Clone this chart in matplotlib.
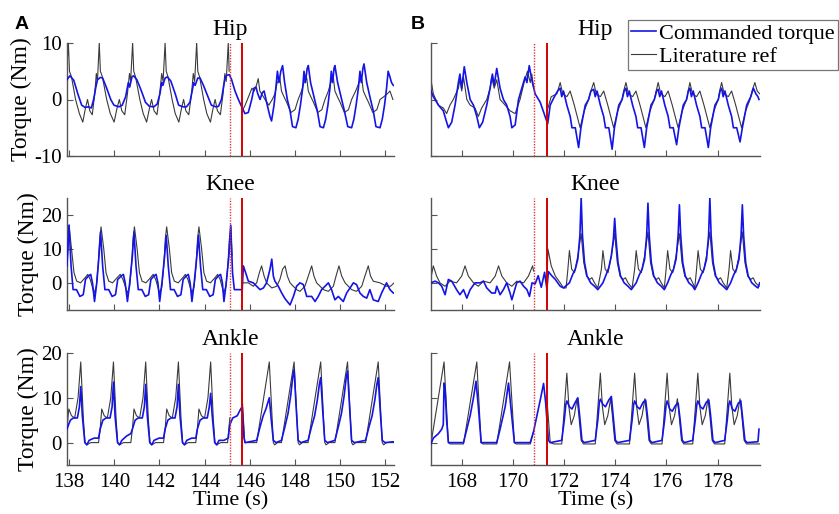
import numpy as np
import matplotlib.pyplot as plt

plt.rcParams['font.family'] = ['Liberation Serif', 'DejaVu Serif']
plt.rcParams['axes.unicode_minus'] = False

nan = float('nan')

# ---- walking trial A (t in s, torque in Nm) ----
hip_a_cmd = [
    (137.90, 3.5), (138.03, 4.2), (138.20, 3.4), (138.38, 1.0), (138.55, -1.0), (138.70, -1.4),
    (138.85, -1.3), (138.98, -1.5), (139.08, 0.0), (139.17, 2.0), (139.25, 3.5), (139.38, 3.9),
    (139.48, 3.8), (139.66, 2.0), (139.84, 0.0), (139.98, -1.0), (140.20, -1.3), (140.35, -1.0),
    (140.50, 0.5), (140.62, 3.0), (140.68, 2.2), (140.78, 4.0), (140.85, 4.2), (141.00, 3.5),
    (141.20, 1.5), (141.38, -0.5), (141.55, -1.2), (141.75, -1.3), (141.90, -0.8), (142.02, 1.0),
    (142.10, 3.0), (142.15, 2.5), (142.25, 3.8), (142.35, 4.0), (142.50, 3.3), (142.70, 1.0),
    (142.85, -1.0), (143.05, -1.3), (143.20, -1.3), (143.35, -0.5), (143.45, 1.5), (143.52, 3.0),
    (143.58, 2.5), (143.70, 3.8), (143.80, 3.8), (143.95, 2.5), (144.15, 0.5), (144.30, -1.0),
    (144.50, -1.3), (144.62, -1.2), (144.75, 0.0), (144.85, 2.5), (144.92, 4.0), (145.00, 4.3),
    (145.10, 4.4), (145.20, 3.5), (145.35, 1.5), (145.50, 0.0), (145.67, -1.5),
    (145.79, -2.5), (145.94, -2.3), (146.09, 0.0), (146.19, 2.0), (146.28, 2.2), (146.36, 1.0),
    (146.46, 0.0), (146.56, 1.2), (146.64, 1.5), (146.75, -0.5), (146.90, -3.0), (146.97, -3.8),
    (147.08, -1.0), (147.16, 2.0), (147.23, 5.0), (147.30, 3.0), (147.38, 5.0), (147.46, 6.0),
    (147.55, 3.0), (147.67, 0.0), (147.79, -2.0), (147.90, -4.8), (148.05, -5.0), (148.15, -3.5),
    (148.25, -1.0), (148.35, 2.0), (148.41, 5.0), (148.47, 3.0), (148.55, 5.5), (148.60, 6.0),
    (148.70, 3.0), (148.85, 0.5), (149.00, -2.0), (149.12, -4.8), (149.27, -5.0), (149.37, -3.5),
    (149.47, -1.0), (149.56, 2.0), (149.62, 5.0), (149.68, 3.0), (149.74, 5.5), (149.78, 6.0),
    (149.90, 3.0), (150.05, 0.5), (150.20, -2.0), (150.35, -4.8), (150.52, -5.0), (150.62, -3.5),
    (150.72, -1.0), (150.82, 2.0), (150.89, 5.0), (150.95, 3.0), (151.02, 5.5), (151.07, 6.3),
    (151.19, 3.0), (151.33, 0.5), (151.48, -2.0), (151.60, -4.8), (151.78, -5.0), (151.88, -3.5),
    (151.98, -1.0), (152.07, 2.0), (152.14, 5.0), (152.22, 4.0), (152.29, 3.0), (152.37, 2.5),
]
hip_a_ref = [
    (137.90, 6.0), (137.96, 10.0), (138.01, 5.0), (138.10, 4.0), (138.28, 0.0), (138.45, -2.5),
    (138.60, -4.0), (138.72, -1.5), (138.81, 0.0), (138.91, -2.0), (139.02, -2.7), (139.13, 1.0),
    (139.20, 4.6), (139.25, 3.2), (139.33, 10.0), (139.38, 5.0), (139.47, 4.0), (139.66, 0.0),
    (139.82, -2.5), (139.99, -4.0), (140.12, -1.5), (140.22, 0.0), (140.33, -2.0), (140.46, -2.7),
    (140.58, 1.0), (140.67, 4.6), (140.72, 3.2), (140.81, 10.0), (140.86, 5.0), (140.94, 4.0),
    (141.13, 0.0), (141.28, -2.5), (141.43, -4.0), (141.56, -1.5), (141.65, 0.0), (141.76, -2.0),
    (141.89, -2.7), (142.01, 1.0), (142.10, 4.6), (142.16, 3.2), (142.25, 10.0), (142.30, 5.0),
    (142.38, 4.0), (142.56, 0.0), (142.70, -2.5), (142.86, -4.0), (142.98, -1.5), (143.07, 0.0),
    (143.17, -2.0), (143.30, -2.7), (143.42, 1.0), (143.50, 4.6), (143.56, 3.2), (143.65, 10.0),
    (143.70, 5.0), (143.78, 4.0), (143.96, 0.0), (144.10, -2.5), (144.26, -4.0), (144.38, -1.5),
    (144.47, 0.0), (144.57, -2.0), (144.70, -2.7), (144.82, 1.0), (144.90, 4.6), (144.96, 3.2),
    (145.05, 10.0), (145.09, 5.0), (145.12, nan),
    (145.67, -2.0), (145.80, -1.0), (145.95, 0.5), (146.10, 2.0), (146.20, 1.5), (146.30, 2.5),
    (146.38, 3.7), (146.45, 1.5), (146.56, 0.8), (146.68, 0.0), (146.85, -1.0), (147.00, 0.0),
    (147.12, 1.0), (147.22, 3.0), (147.34, 3.8), (147.41, 1.5), (147.52, 0.5), (147.64, -0.5),
    (147.83, -2.3), (148.01, -1.8), (148.15, 0.0), (148.30, 1.5), (148.41, 3.0), (148.53, 3.8),
    (148.60, 1.5), (148.71, 0.5), (148.83, -0.5), (149.02, -2.3), (149.20, -1.8), (149.34, 0.0),
    (149.49, 1.5), (149.59, 3.0), (149.71, 3.9), (149.78, 1.5), (149.89, 0.5), (150.01, -0.5),
    (150.20, -2.3), (150.38, -1.8), (150.52, 0.0), (150.70, 1.5), (150.85, 3.0), (150.97, 3.8),
    (151.04, 1.5), (151.15, 0.5), (151.27, -0.5), (151.46, -2.3), (151.64, -1.8), (151.78, 0.0),
    (151.95, 0.5), (152.10, 1.0), (152.22, 1.5), (152.35, 0.0),
]
knee_a_cmd = [
    (137.90, 5.0), (137.99, 17.0), (138.08, 5.0), (138.17, -2.0), (138.32, -2.0), (138.47, -4.0),
    (138.62, -3.5), (138.72, 1.0), (138.85, 2.0), (138.95, 2.5), (139.03, 0.0), (139.12, -5.5),
    (139.22, 0.0), (139.32, 8.0), (139.39, 15.0), (139.48, 5.0), (139.58, -2.0), (139.75, -2.0),
    (139.90, -4.0), (140.05, -3.5), (140.15, 1.0), (140.30, 2.0), (140.40, 2.5), (140.48, 0.0),
    (140.58, -5.5), (140.68, 0.0), (140.80, 8.0), (140.87, 15.0), (140.96, 5.0), (141.06, -2.0),
    (141.22, -2.0), (141.37, -4.0), (141.52, -3.5), (141.62, 1.0), (141.75, 2.0), (141.85, 2.5),
    (141.93, 0.0), (142.01, -5.5), (142.11, 0.0), (142.23, 8.0), (142.30, 14.0), (142.39, 5.0),
    (142.49, -2.0), (142.65, -2.0), (142.80, -4.0), (142.95, -3.5), (143.05, 1.0), (143.18, 2.0),
    (143.28, 2.5), (143.36, 0.0), (143.44, -5.5), (143.54, 0.0), (143.66, 8.0), (143.73, 14.0),
    (143.82, 5.0), (143.92, -2.0), (144.08, -2.0), (144.23, -4.0), (144.38, -3.5), (144.48, 1.0),
    (144.61, 2.0), (144.71, 2.5), (144.79, 0.0), (144.86, -5.5), (144.96, 0.0), (145.08, 8.0),
    (145.16, 17.0), (145.24, 3.0), (145.32, -2.0), (145.67, -2.0),
    (145.72, 5.0), (145.87, 2.0), (145.94, 0.5), (146.16, 0.0), (146.31, -1.0), (146.46, -2.0),
    (146.61, -1.5), (146.75, 0.0), (146.90, 4.0), (146.98, 7.0), (147.05, 2.0), (147.12, 0.5),
    (147.27, -1.0), (147.42, -3.0), (147.57, -4.7), (147.79, -6.5), (147.94, -4.0), (148.08, -1.0),
    (148.23, 0.0), (148.38, -0.5), (148.53, -4.0), (148.75, -4.0), (148.90, -5.5), (149.04, -4.0),
    (149.19, -2.0), (149.34, -1.0), (149.49, 0.0), (149.63, -2.0), (149.78, -5.0), (149.93, -4.0),
    (150.15, -5.5), (150.30, -3.0), (150.60, 0.0), (150.74, -0.5), (150.89, -3.0), (151.04, -4.0),
    (151.19, -4.5), (151.33, -2.0), (151.48, -5.0), (151.70, -5.5), (151.85, -3.0), (152.07, 0.0),
    (152.22, -2.0), (152.37, -3.0),
]
knee_a_ref = [
    (137.90, 5.0), (137.99, 17.0), (138.10, 10.0), (138.21, 3.0), (138.33, 0.5), (138.50, 0.0),
    (138.70, 1.5), (138.82, 2.5), (138.93, 1.0), (139.10, -3.0), (139.20, -1.0), (139.28, 5.0),
    (139.35, 13.0), (139.41, 16.5), (139.53, 10.0), (139.63, 3.0), (139.75, 0.5), (139.92, 0.0),
    (140.12, 1.5), (140.26, 2.5), (140.38, 1.0), (140.58, -3.0), (140.68, -1.0), (140.76, 5.0),
    (140.83, 13.0), (140.89, 16.5), (141.01, 10.0), (141.11, 3.0), (141.23, 0.5), (141.40, 0.0),
    (141.60, 1.5), (141.72, 2.5), (141.83, 1.0), (142.01, -3.0), (142.11, -1.0), (142.19, 5.0),
    (142.26, 13.0), (142.32, 16.5), (142.44, 10.0), (142.54, 3.0), (142.66, 0.5), (142.83, 0.0),
    (143.03, 1.5), (143.15, 2.5), (143.26, 1.0), (143.44, -3.0), (143.54, -1.0), (143.62, 5.0),
    (143.69, 13.0), (143.75, 16.5), (143.87, 10.0), (143.97, 3.0), (144.09, 0.5), (144.26, 0.0),
    (144.46, 1.5), (144.58, 2.5), (144.69, 1.0), (144.85, -3.0), (144.95, -1.0), (145.03, 5.0),
    (145.10, 13.0), (145.16, 16.5), (145.22, 8.0), (145.25, nan),
    (145.67, 0.0), (145.94, 0.0), (146.16, -1.0), (146.31, 0.0), (146.43, 3.0), (146.53, 5.0),
    (146.64, 2.0), (146.75, 0.0), (146.98, -1.5), (147.20, -1.0), (147.34, 1.0), (147.46, 4.0),
    (147.57, 5.0), (147.67, 2.0), (147.79, 0.0), (148.08, -2.0), (148.23, -2.5), (148.45, -1.0),
    (148.60, 2.0), (148.75, 5.0), (148.85, 2.0), (148.97, 0.0), (149.27, -2.0), (149.49, -2.5),
    (149.71, -1.0), (149.83, 2.0), (149.96, 5.0), (150.08, 2.0), (150.23, 0.0), (150.52, -2.0),
    (150.74, -2.5), (150.97, -1.0), (151.11, 2.0), (151.26, 5.0), (151.36, 2.0), (151.48, 0.5),
    (151.78, 0.0), (152.07, -1.0), (152.25, -1.0), (152.40, 0.0),
]
ankle_a_cmd = [
    (137.90, 3.0), (137.97, 4.0), (138.05, 5.0), (138.18, 5.5), (138.36, 5.5), (138.45, 8.0),
    (138.51, 12.5), (138.58, 6.0), (138.69, 0.0), (138.78, -0.5), (138.88, 0.5), (139.10, 1.0),
    (139.30, 1.0), (139.37, 3.0), (139.49, 5.0), (139.63, 5.5), (139.81, 5.5), (139.90, 8.0),
    (139.96, 13.5), (140.03, 6.0), (140.14, 0.0), (140.23, -0.5), (140.33, 0.5), (140.55, 1.5),
    (140.73, 2.0), (140.80, 3.0), (140.92, 5.0), (141.06, 5.5), (141.24, 5.5), (141.33, 8.0),
    (141.39, 13.0), (141.46, 6.0), (141.57, 0.0), (141.66, -0.5), (141.76, 0.5), (141.98, 1.0),
    (142.18, 1.0), (142.25, 3.0), (142.37, 5.0), (142.51, 5.5), (142.69, 5.5), (142.78, 8.0),
    (142.84, 13.0), (142.91, 6.0), (143.02, 0.0), (143.11, -0.5), (143.21, 0.5), (143.43, 1.0),
    (143.61, 1.0), (143.68, 3.0), (143.80, 5.0), (143.94, 5.5), (144.12, 5.5), (144.21, 8.0),
    (144.27, 11.0), (144.34, 6.0), (144.45, 0.0), (144.54, -0.5), (144.64, 0.5), (144.86, 0.5),
    (145.05, 1.0), (145.12, 4.0), (145.25, 5.5), (145.45, 6.0), (145.60, 7.5), (145.67, 8.0),
    (145.75, 1.0), (145.80, 0.0),
    (146.31, 0.5), (146.46, 3.5), (146.60, 6.0), (146.72, 7.5), (146.81, 9.0), (146.87, 10.0),
    (146.96, 5.0), (147.05, 0.5), (147.17, 0.0),
    (147.41, 0.5), (147.56, 3.5), (147.70, 6.5), (147.82, 10.5), (147.91, 14.7), (147.97, 16.3),
    (148.06, 8.0), (148.15, 0.5), (148.27, 0.0),
    (148.59, 0.5), (148.74, 3.5), (148.88, 6.0), (149.00, 9.5), (149.09, 13.0), (149.15, 14.5),
    (149.24, 7.0), (149.33, 0.5), (149.45, 0.0),
    (149.78, 0.5), (149.93, 3.5), (150.07, 6.5), (150.19, 10.5), (150.28, 14.5), (150.34, 16.0),
    (150.43, 8.0), (150.52, 0.5), (150.64, 0.0),
    (151.14, 0.5), (151.29, 3.5), (151.43, 6.0), (151.55, 9.5), (151.64, 13.0), (151.70, 14.5),
    (151.79, 7.0), (151.88, 0.5), (152.00, 0.0), (152.40, 0.2),
]
ankle_a_ref = [
    (137.90, 3.0), (137.95, 6.0), (137.98, 7.5), (138.10, 6.0), (138.24, 5.5), (138.39, 10.0),
    (138.51, 18.0), (138.63, 5.0), (138.70, 0.0), (138.78, -0.5), (138.95, 0.0), (139.30, 0.0),
    (139.37, 3.0), (139.44, 7.5), (139.55, 6.0), (139.69, 5.5), (139.84, 10.0), (139.96, 18.0),
    (140.08, 5.0), (140.15, 0.0), (140.23, -0.5), (140.40, 0.0), (140.73, 0.0), (140.80, 3.0),
    (140.87, 7.5), (140.98, 6.0), (141.12, 5.5), (141.27, 10.0), (141.39, 18.0), (141.51, 5.0),
    (141.58, 0.0), (141.66, -0.5), (141.83, 0.0), (142.18, 0.0), (142.25, 3.0), (142.32, 7.5),
    (142.43, 6.0), (142.57, 5.5), (142.72, 10.0), (142.84, 18.0), (142.96, 5.0), (143.03, 0.0),
    (143.11, -0.5), (143.28, 0.0), (143.61, 0.0), (143.68, 3.0), (143.75, 7.5), (143.86, 6.0),
    (144.00, 5.5), (144.15, 10.0), (144.27, 18.0), (144.39, 5.0), (144.46, 0.0), (144.54, -0.5),
    (144.71, 0.0), (145.02, 0.0), (145.12, 5.5), (145.13, nan),
    (145.67, 10.0), (145.78, 0.0), (146.31, 0.0), (146.87, 18.0), (147.05, 0.0), (147.11, -0.5),
    (147.24, 0.0), (147.41, 0.0), (147.97, 18.0), (148.15, 0.0), (148.21, -0.5), (148.34, 0.0),
    (148.59, 0.0), (149.15, 18.0), (149.33, 0.0), (149.39, -0.5), (149.52, 0.0), (149.78, 0.0),
    (150.34, 18.0), (150.52, 0.0), (150.58, -0.5), (150.71, 0.0), (151.14, 0.0), (151.70, 18.0),
    (151.88, 0.0), (151.94, -0.5), (152.07, 0.0), (152.40, 0.0),
]

# ---- walking trial B ----
hip_b_cmd = [
    (166.80, 1.5), (166.89, 0.5), (167.09, -1.0), (167.28, -2.0), (167.41, -4.0), (167.48, -5.0),
    (167.61, -4.0), (167.74, -1.0), (167.87, 3.0), (167.93, 4.5), (168.00, 2.0), (168.10, 5.8),
    (168.20, 3.0), (168.33, 0.0), (168.46, -1.0), (168.59, -3.0), (168.69, -5.0), (168.82, -4.0),
    (168.98, -1.0), (169.11, 2.0), (169.20, 4.5), (169.27, 2.5), (169.37, 5.5), (169.50, 2.0),
    (169.63, 0.0), (169.76, -1.0), (169.89, -3.0), (169.96, -5.0), (170.09, -4.5), (170.22, 0.0),
    (170.35, 2.0), (170.48, 4.0), (170.55, 3.0), (170.64, 6.0), (170.74, 3.5), (170.87, 1.0),
    (171.07, -0.5), (171.26, -3.0), (171.36, -4.3), (171.46, -1.0),
    (171.60, 0.3), (171.75, 1.5), (171.85, 2.0), (171.91, 0.5), (171.98, 1.5), (172.11, -1.0),
    (172.24, -3.0), (172.31, -5.0), (172.44, -5.0), (172.57, -8.5), (172.66, -5.0), (172.83, -1.0),
    (172.96, 0.0), (173.05, 1.5), (173.16, 1.8), (173.22, 0.5), (173.29, 1.5), (173.42, -1.0),
    (173.55, -3.0), (173.62, -5.0), (173.75, -5.0), (173.88, -8.8), (173.97, -5.0), (174.14, -1.0),
    (174.27, 0.0), (174.35, 1.5), (174.42, 2.0), (174.48, 0.5), (174.55, 1.5), (174.68, -1.0),
    (174.81, -3.0), (174.88, -5.0), (175.01, -5.0), (175.14, -8.5), (175.23, -5.0), (175.40, -1.0),
    (175.53, 0.0), (175.62, 1.5), (175.68, 1.8), (175.74, 0.5), (175.81, 1.5), (175.94, -1.0),
    (176.07, -3.0), (176.14, -5.0), (176.27, -5.0), (176.40, -8.0), (176.49, -5.0), (176.66, -1.0),
    (176.79, 0.0), (176.86, 1.5), (176.92, 2.0), (176.98, 0.5), (177.05, 1.5), (177.18, -1.0),
    (177.31, -3.0), (177.38, -5.0), (177.51, -5.0), (177.64, -8.5), (177.73, -5.0), (177.90, -1.0),
    (178.03, 0.0), (178.10, 1.5), (178.16, 2.0), (178.22, 0.5), (178.29, 1.5), (178.42, -1.0),
    (178.55, -3.0), (178.62, -5.0), (178.75, -5.0), (178.88, -7.5), (178.97, -5.0), (179.14, -1.0),
    (179.30, 0.5), (179.40, 2.0), (179.50, 1.0), (179.58, 0.5), (179.62, 0.0),
]
hip_b_ref = [
    (166.80, 3.5), (166.89, 1.0), (167.09, -1.0), (167.28, -1.5), (167.41, -2.5), (167.54, -1.0),
    (167.67, 0.0), (167.87, 2.0), (167.93, 3.5), (168.00, 1.5), (168.07, 4.0), (168.20, 0.0),
    (168.33, -1.0), (168.52, -1.5), (168.65, -3.0), (168.78, -1.5), (168.98, 0.0), (169.11, 2.0),
    (169.17, 4.0), (169.27, 2.0), (169.37, 3.5), (169.50, 0.0), (169.70, -1.0), (169.89, -2.0),
    (170.09, -2.5), (170.28, 0.0), (170.44, 3.0), (170.57, 5.0), (170.68, 3.0), (170.74, 4.5),
    (170.81, 2.0), (170.82, nan),
    (171.34, -2.0), (171.50, 0.5), (171.72, 1.0), (171.85, 3.0), (171.95, 1.0), (172.11, 0.5),
    (172.24, 1.5), (172.40, -1.0), (172.63, -5.0), (172.79, -2.0), (172.96, 0.0), (173.05, 1.5),
    (173.16, 3.0), (173.26, 1.0), (173.42, 0.5), (173.55, 1.5), (173.71, -1.0), (173.94, -5.0),
    (174.10, -2.0), (174.27, 0.0), (174.33, 1.5), (174.42, 3.0), (174.52, 1.0), (174.68, 0.5),
    (174.81, 1.5), (174.97, -1.0), (175.20, -5.0), (175.36, -2.0), (175.53, 0.0), (175.60, 1.5),
    (175.68, 3.0), (175.78, 1.0), (175.94, 0.5), (176.07, 1.5), (176.23, -1.0), (176.46, -5.0),
    (176.62, -2.0), (176.79, 0.0), (176.85, 1.5), (176.92, 3.0), (177.02, 1.0), (177.18, 0.5),
    (177.31, 1.5), (177.47, -1.0), (177.70, -5.0), (177.86, -2.0), (178.03, 0.0), (178.08, 1.5),
    (178.16, 3.0), (178.26, 1.0), (178.42, 0.5), (178.55, 1.5), (178.71, -1.0), (178.94, -5.0),
    (179.10, -2.0), (179.27, 0.0), (179.35, 1.5), (179.46, 3.0), (179.55, 1.5), (179.65, 1.0),
]
knee_b_cmd = [
    (166.80, 0.0), (166.96, 0.5), (167.09, 0.0), (167.22, -1.0), (167.35, -3.5), (167.48, 1.0),
    (167.61, 0.5), (167.80, -2.0), (167.93, -3.5), (168.07, -2.0), (168.20, -4.5), (168.33, -2.0),
    (168.52, 0.0), (168.72, 0.0), (168.85, 0.5), (168.98, -1.5), (169.17, -3.0), (169.31, -3.0),
    (169.37, -1.0), (169.50, -3.5), (169.63, -2.0), (169.76, 0.0), (169.89, -3.0), (169.96, -5.0),
    (170.15, 0.0), (170.28, 0.5), (170.42, -1.0), (170.55, -2.0), (170.65, -4.0), (170.75, 0.0),
    (170.87, -0.3), (170.99, 2.1), (171.11, -1.3), (171.24, 3.1), (171.33, -1.8), (171.39, 3.3),
    (171.52, 2.1), (171.66, 1.0), (171.85, -1.0), (171.98, -1.5),
    (172.21, 0.0), (172.34, 2.5), (172.44, 4.0), (172.54, 7.0), (172.62, 14.0), (172.67, 25.0),
    (172.72, 14.0), (172.80, 6.0), (172.90, 2.0), (173.04, 0.0), (173.19, -1.0), (173.32, -2.0),
    (173.52, 0.0), (173.65, 2.5), (173.75, 4.5), (173.85, 8.0), (173.93, 13.0), (173.98, 19.0),
    (174.03, 13.0), (174.11, 6.0), (174.21, 2.0), (174.35, 0.0), (174.50, -1.0), (174.63, -2.0),
    (174.82, 0.0), (174.95, 2.5), (175.05, 4.0), (175.15, 7.0), (175.23, 14.0), (175.28, 23.5),
    (175.33, 14.0), (175.41, 6.0), (175.51, 2.0), (175.65, 0.0), (175.80, -1.0), (175.92, -2.0),
    (176.05, 0.0), (176.18, 2.5), (176.28, 4.0), (176.38, 7.0), (176.46, 14.0), (176.51, 23.0),
    (176.56, 14.0), (176.64, 6.0), (176.74, 2.0), (176.88, 0.0), (177.03, -1.0), (177.11, -2.0),
    (177.24, 0.0), (177.37, 2.5), (177.47, 4.0), (177.57, 7.0), (177.65, 14.0), (177.70, 25.0),
    (177.75, 14.0), (177.83, 6.0), (177.93, 2.0), (178.07, 0.0), (178.22, -1.0), (178.36, -2.0),
    (178.51, 0.0), (178.64, 2.5), (178.74, 4.0), (178.84, 7.0), (178.92, 14.0), (178.97, 23.0),
    (179.02, 14.0), (179.10, 6.0), (179.20, 2.0), (179.34, 0.0), (179.49, -1.0), (179.58, -1.5),
    (179.65, 0.0),
]
knee_b_ref = [
    (166.80, 1.5), (166.89, 5.0), (167.02, 2.0), (167.15, 0.0), (167.35, -1.0), (167.54, 0.5),
    (167.80, 0.0), (168.00, 2.0), (168.13, 5.0), (168.26, 2.0), (168.46, 0.0), (168.65, -1.0),
    (168.85, 0.5), (169.11, 0.0), (169.31, 2.0), (169.44, 5.0), (169.57, 2.0), (169.76, 0.0),
    (169.96, -1.0), (170.15, 0.5), (170.42, 0.0), (170.61, 2.0), (170.77, 5.0), (170.81, 3.5),
    (170.82, nan),
    (171.34, 2.0), (171.37, 10.0), (171.50, 5.0), (171.66, 2.0), (171.85, 0.0), (171.98, -1.5),
    (172.08, -1.5), (172.15, 4.0), (172.21, 9.5), (172.30, 4.0), (172.41, 3.0), (172.54, 8.0),
    (172.67, 14.5), (172.77, 6.0), (172.88, 2.0), (173.00, 1.0), (173.09, 1.5), (173.19, 0.0),
    (173.32, -1.5), (173.46, 4.0), (173.52, 9.5), (173.61, 4.0), (173.72, 3.0), (173.85, 8.0),
    (173.98, 14.5), (174.08, 6.0), (174.19, 2.0), (174.31, 1.0), (174.40, 1.5), (174.50, 0.0),
    (174.66, -1.5), (174.76, 4.0), (174.82, 9.5), (174.91, 4.0), (175.02, 3.0), (175.15, 8.0),
    (175.28, 15.0), (175.38, 6.0), (175.49, 2.0), (175.61, 1.0), (175.70, 1.5), (175.80, 0.0),
    (175.92, -1.5), (175.99, 4.0), (176.05, 9.5), (176.14, 4.0), (176.25, 3.0), (176.38, 8.0),
    (176.51, 14.5), (176.61, 6.0), (176.72, 2.0), (176.84, 1.0), (176.93, 1.5), (177.03, 0.0),
    (177.11, -1.5), (177.18, 4.0), (177.24, 9.5), (177.33, 4.0), (177.44, 3.0), (177.57, 8.0),
    (177.70, 15.0), (177.80, 6.0), (177.91, 2.0), (178.03, 1.0), (178.12, 1.5), (178.22, 0.0),
    (178.36, -1.5), (178.45, 4.0), (178.51, 9.5), (178.60, 4.0), (178.71, 3.0), (178.84, 8.0),
    (178.97, 15.0), (179.07, 6.0), (179.18, 2.0), (179.30, 1.0), (179.39, 1.5), (179.49, 0.0),
    (179.62, -1.0),
]
ankle_b_cmd = [
    (166.80, -0.3), (166.89, 1.0), (167.09, 2.0), (167.22, 3.0), (167.28, 4.0), (167.31, 13.3),
    (167.35, 12.0), (167.41, 5.0), (167.48, 0.0), (168.07, 0.0), (168.20, 3.0), (168.33, 6.0),
    (168.46, 10.0), (168.56, 13.7), (168.65, 8.0), (168.76, 0.0), (169.37, 0.0), (169.50, 3.0),
    (169.70, 8.0), (169.83, 13.3), (169.92, 8.0), (170.06, 0.0), (170.68, 0.0), (170.81, 2.5),
    (170.94, 6.0), (171.07, 9.5), (171.20, 13.2), (171.28, 9.0), (171.39, 0.5), (171.46, 0.0),
    (171.91, 0.5), (172.01, 5.0), (172.07, 8.5), (172.11, 9.3), (172.21, 8.0), (172.31, 7.5),
    (172.44, 9.0), (172.54, 10.0), (172.61, 6.0), (172.70, 0.5), (172.79, 0.0),
    (173.22, 0.5), (173.32, 5.0), (173.38, 9.0), (173.42, 9.7), (173.52, 8.5), (173.62, 8.0),
    (173.75, 9.5), (173.85, 10.3), (173.92, 6.0), (174.01, 0.5), (174.10, 0.0),
    (174.56, 0.5), (174.66, 5.0), (174.72, 8.5), (174.76, 9.3), (174.86, 8.0), (174.96, 7.5),
    (175.09, 9.0), (175.19, 9.5), (175.26, 6.0), (175.35, 0.5), (175.44, 0.0),
    (175.83, 0.5), (175.93, 5.0), (175.99, 8.5), (176.03, 9.3), (176.13, 7.5), (176.23, 7.0),
    (176.36, 8.3), (176.46, 8.8), (176.53, 5.5), (176.62, 0.5), (176.71, 0.0),
    (177.03, 0.5), (177.13, 5.0), (177.19, 8.5), (177.23, 9.3), (177.33, 8.0), (177.43, 7.5),
    (177.56, 9.0), (177.66, 9.5), (177.73, 6.0), (177.82, 0.5), (177.91, 0.0),
    (178.28, 0.5), (178.38, 5.0), (178.44, 8.5), (178.48, 9.3), (178.58, 7.5), (178.68, 7.0),
    (178.81, 8.8), (178.91, 9.3), (178.98, 5.5), (179.07, 0.5), (179.16, 0.0), (179.58, 0.2),
    (179.62, 3.0),
]
ankle_b_ref = [
    (166.80, -0.2), (167.31, 18.0), (167.48, 0.0), (167.55, -0.3), (168.07, -0.3), (168.59, 18.0),
    (168.76, 0.0), (168.83, -0.3), (169.37, -0.3), (169.87, 18.0), (170.06, 0.0), (170.13, -0.3),
    (170.68, -0.3), (170.81, 2.5), (170.82, nan),
    (171.34, 9.0), (171.46, 0.0), (171.60, -0.3), (171.91, -0.3), (172.04, 10.0), (172.11, 15.5),
    (172.19, 8.0), (172.28, 4.0), (172.40, 6.0), (172.51, 9.8), (172.58, 6.0), (172.67, 0.5),
    (172.76, -0.3), (173.22, -0.3), (173.35, 10.0), (173.42, 15.5), (173.50, 8.0), (173.59, 4.0),
    (173.71, 6.0), (173.82, 9.8), (173.89, 6.0), (173.98, 0.5), (174.07, -0.3), (174.56, -0.3),
    (174.69, 10.0), (174.76, 15.5), (174.84, 8.0), (174.93, 4.0), (175.05, 6.0), (175.16, 9.8),
    (175.23, 6.0), (175.32, 0.5), (175.41, -0.3), (175.83, -0.3), (175.96, 10.0), (176.03, 15.5),
    (176.11, 8.0), (176.20, 4.0), (176.32, 6.0), (176.43, 9.8), (176.50, 6.0), (176.59, 0.5),
    (176.68, -0.3), (177.03, -0.3), (177.16, 10.0), (177.23, 15.5), (177.31, 8.0), (177.40, 4.0),
    (177.52, 6.0), (177.63, 9.8), (177.70, 6.0), (177.79, 0.5), (177.88, -0.3), (178.28, -0.3),
    (178.41, 10.0), (178.48, 15.5), (178.56, 8.0), (178.65, 4.0), (178.77, 6.0), (178.88, 9.8),
    (178.95, 6.0), (179.04, 0.5), (179.13, -0.3), (179.65, -0.3),
]

joints = ['Hip', 'Knee', 'Ankle']
ylims = [(-10, 10), (-8, 25), (-5, 20)]
yticks = [[-10, 0, 10], [0, 10, 20], [0, 10, 20]]
xlims = [(137.9, 152.4), (166.8, 179.66)]
xticks = [np.arange(138, 153, 2), np.arange(168, 179, 2)]
switch_lines = [(145.12, 145.67), (170.81, 171.34)]
traces = [
    [(hip_a_cmd, hip_a_ref), (knee_a_cmd, knee_a_ref), (ankle_a_cmd, ankle_a_ref)],
    [(hip_b_cmd, hip_b_ref), (knee_b_cmd, knee_b_ref), (ankle_b_cmd, ankle_b_ref)],
]

W, H = 839, 514
fig = plt.figure(figsize=(W / 100, H / 100), dpi=100)

# axes boxes in pixels: (left, right) per column, (top, bottom) per row
cols = [(67, 394), (431, 760)]
rows = [(43, 156), (198, 310), (353, 465)]

blue = '#1414e6'
grey = '#3a3a3a'
for c in range(2):
    for r in range(3):
        x0, x1 = cols[c]
        y0, y1 = rows[r]
        ax = fig.add_axes([x0 / W, 1 - y1 / H, (x1 - x0) / W, (y1 - y0) / H])
        cmd, ref = traces[c][r]
        t_ref, v_ref = np.array(ref).T
        t_cmd, v_cmd = np.array(cmd).T
        ax.plot(t_ref, v_ref, color=grey, lw=0.8, zorder=2)
        ax.plot(t_cmd, v_cmd, color=blue, lw=1.2, zorder=3)
        dotted, solid = switch_lines[c]
        ax.axvline(dotted, color='#e03535', lw=1.0, ls=(0, (1, 1)), zorder=4)
        ax.axvline(solid, color='#d40000', lw=1.4, zorder=4)

        ax.set_xlim(*xlims[c])
        ax.set_ylim(*ylims[r])
        ax.set_xticks(xticks[c])
        ax.set_yticks(yticks[r])
        ax.set_title(joints[r], fontsize=17, pad=6)
        for side in ['top', 'right']:
            ax.spines[side].set_visible(False)
        for side in ['left', 'bottom']:
            ax.spines[side].set_color('#555555')
            ax.spines[side].set_linewidth(1.0)
        ax.tick_params(direction='in', length=4, width=0.8, color='#555555',
                       labelsize=15)
        ax.tick_params(axis='x', pad=6)
        ax.tick_params(axis='y', pad=4)
        if c == 0:
            ax.set_ylabel('Torque (Nm)', fontsize=17, labelpad=1)
        else:
            ax.set_yticklabels([])
        if r < 2:
            ax.set_xticklabels([])
        else:
            ax.set_xlabel('Time (s)', fontsize=16, labelpad=-1)

fig.text(15 / W, 1 - 29 / H, 'A', fontsize=14, fontweight='bold',
         family='Liberation Sans', va='baseline')
fig.text(411 / W, 1 - 29 / H, 'B', fontsize=14, fontweight='bold',
         family='Liberation Sans', va='baseline')

handles = [plt.Line2D([], [], color=blue, lw=1.2),
           plt.Line2D([], [], color=grey, lw=0.8)]
leg = fig.legend(handles, ['Commanded torque', 'Literature ref'],
                 loc='upper right', bbox_to_anchor=(838 / W, 1 - 20 / H),
                 fontsize=16, frameon=True, fancybox=False, borderaxespad=0,
                 handlelength=1.1, handletextpad=0.15, borderpad=0.15,
                 labelspacing=0.1)
leg.get_frame().set_edgecolor('#555555')
leg.get_frame().set_linewidth(0.9)

fig.savefig('out.png', dpi=100)
